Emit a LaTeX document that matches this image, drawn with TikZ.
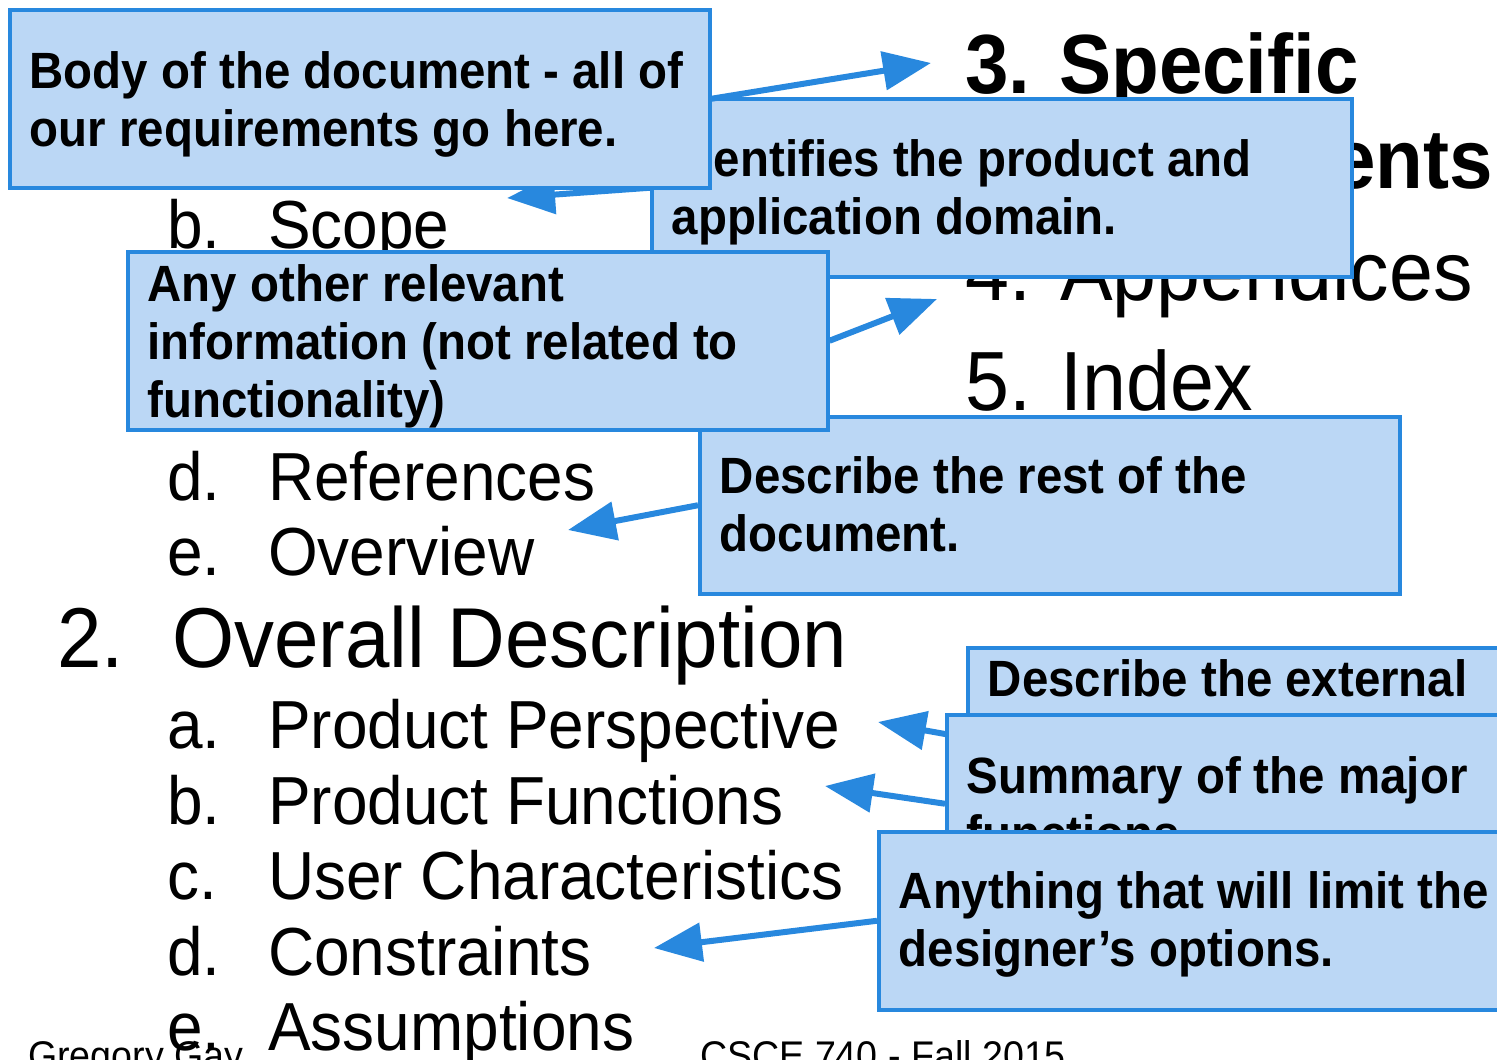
\documentclass[tikz,border=0pt]{standalone}
\usepackage{fontspec}
\setmainfont{Liberation Sans}[FakeStretch=0.94,BoldFeatures={FakeStretch=0.93}]
\usetikzlibrary{arrows.meta}
\definecolor{notefill}{RGB}{187,215,245}
\definecolor{noteline}{RGB}{40,136,222}

\begin{document}
\begin{tikzpicture}
[x=1pt,y=-1pt]
\tikzstyle{list item}=[anchor=base west,inner sep=0,font=\fontsize{68}{80}\selectfont]
\tikzstyle{section item}=[anchor=base west,inner sep=0,font=\fontsize{84}{96}\selectfont]
\tikzstyle{bold section}=[section item,font=\bfseries\fontsize{84}{96}\selectfont]
\tikzstyle{footer}=[anchor=base west,inner sep=0,font=\fontsize{40}{48}\selectfont]
\tikzstyle{callout box}=[anchor=north west,draw=noteline,line width=3.5pt,fill=notefill,
  inner xsep=20pt,inner ysep=0pt,text width=660pt,align=flush left,
  font=\bfseries\fontsize{51}{58}\selectfont]
\tikzstyle{pointer}=[draw=noteline,line width=6pt,-{Triangle[length=48pt,width=38pt]}]

\useasboundingbox(0,0)rectangle(1497,1060);
\clip(0,0)rectangle(1497,1060);

% slide outline
\node(scope)[list item]at(167,248){\makebox[101pt][l]{b.}Scope};
\node(refs)[list item]at(167,500){\makebox[101pt][l]{d.}References};
\node(overview)[list item]at(167,575){\makebox[101pt][l]{e.}Overview};
\node(overall)[section item,font=\fontsize{85}{96}\selectfont]at(57,667){\makebox[115pt][l]{2.}Overall Description};
\node(perspective)[list item]at(167,748){\makebox[101pt][l]{a.}Product Perspective};
\node(functions)[list item]at(167,824){\makebox[101pt][l]{b.}Product Functions};
\node(users)[list item]at(167,899){\makebox[101pt][l]{c.}User Characteristics};
\node(constraints)[list item]at(167,975){\makebox[101pt][l]{d.}Constraints};
\node(assumptions)[list item]at(167,1050){\makebox[101pt][l]{e.}Assumptions};
\node(specific)[bold section]at(965,93){3. Specific};
\node(requirements)[bold section]at(972,188){Requirements};
\node(appendices)[section item]at(965,300){4. Appendices};
\node(index)[section item]at(965,410){5. Index};
\node(author)[footer]at(28,1069){Gregory Gay};
\node(course)[footer]at(700,1069){CSCE 740 - Fall 2015};

\coordinate(spec tip)at(931,63);
\coordinate(scope tip)at(507,198);
\coordinate(appendix tip)at(937,299);
\coordinate(overview tip)at(568,530);
\coordinate(perspective tip)at(878,722);
\coordinate(functions tip)at(825,786);
\coordinate(constraints tip)at(654,948);

% callouts, back to front
\node(ident)[callout box,text height=78pt,text depth=100pt]at(650,97)
  {Identifies the product and\\application domain.};
\draw[pointer](ident.west)--(scope tip);
\node(rest)[callout box,text height=77pt,text depth=100pt]at(698,415)
  {Describe the rest of the\\document.};
\draw[pointer](rest.west)--(overview tip);
\node(body)[callout box,text height=79pt,text depth=99pt]at(8,8)
  {Body of the document - all of\\our requirements go here.};
\draw[pointer](body.east)--(spec tip);
\node(other)[callout box,text height=50pt,text depth=128pt]at(126,250)
  {Any other relevant\\information (not related to\\functionality)};
\draw[pointer](other.east)--(appendix tip);
\node(external)[callout box,text height=49pt,text depth=131pt]at(966,646)
  {Describe the external};
\draw[pointer](external.west)--(perspective tip);
\node(summary)[callout box,text height=79pt,text depth=99pt]at(945,713)
  {Summary of the major\\functions.};
\draw[pointer](summary.west)--(functions tip);
\node(limits)[callout box,text height=77pt,text depth=101pt]at(877,830)
  {Anything that will limit the\\designer's options.};
\draw[pointer](limits.west)--(constraints tip);
\end{tikzpicture}
\end{document}
